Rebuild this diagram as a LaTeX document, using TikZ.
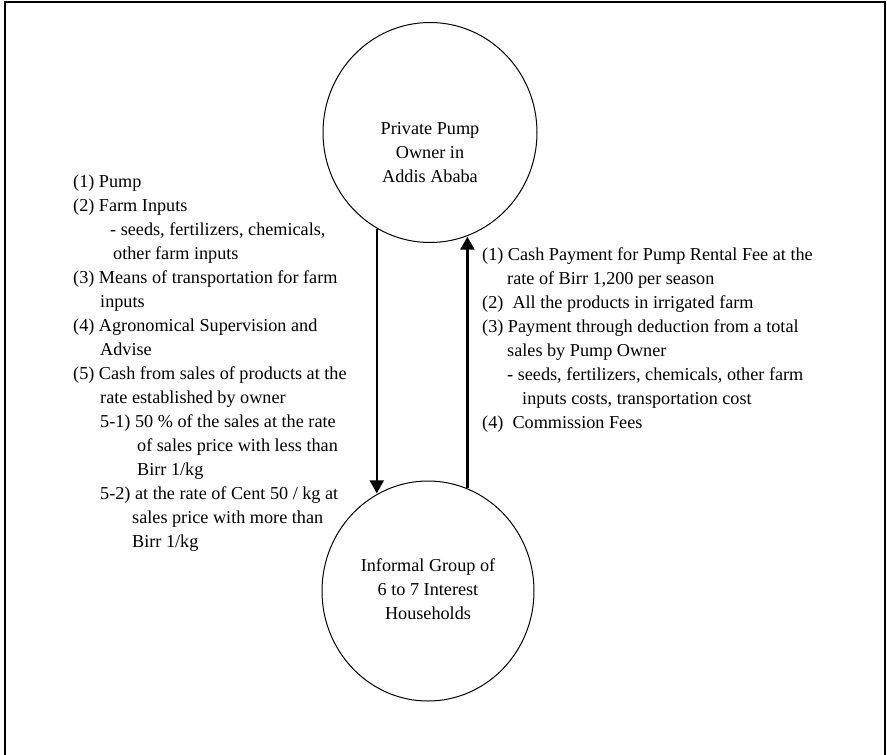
\documentclass[tikz,border=0pt]{standalone}
\usepackage{fontspec}
\setmainfont{Liberation Serif}
\usetikzlibrary{arrows.meta,shapes.geometric}
\newcommand{\bodyfont}{\fontsize{18.2}{24}\selectfont}
\begin{document}
\begin{tikzpicture}[x=1pt,y=-1pt,
  line/.style={anchor=base west, inner sep=0pt, font=\bodyfont},
  party/.style={draw, ellipse, line width=1pt, inner sep=0pt,
                minimum width=214pt, minimum height=220pt},
  title/.style={align=center, inner sep=0pt, font=\bodyfont},
  flow/.style={line width=2.4pt, -{Triangle[length=13pt,width=14pt]}}]
\useasboundingbox (0,0) rectangle (887,755);
\fill[white] (0,0) rectangle (887,755);
% outer frame (its lower edge runs past the page)
\begin{scope}
  \clip (0,0) rectangle (887,755);
  \draw[line width=2pt] (5,1.5) rectangle (885,775);
\end{scope}

% the two parties
\node[party] (owner) at (430,132.5) {};
\node[title] (ownertxt) at (430,153) {Private Pump\\Owner in\\Addis Ababa};
\node[party, minimum width=212pt] (group) at (428,591) {};
\node[title] (grouptxt) at (428,589) {Informal Group of\\6 to 7 Interest\\Households};

% flows between them
\draw[flow] (owner.241.3) -- (owner.241.3 |- group.117.6);
\draw[flow] (group.69.7) -- (group.69.7 |- owner.289.2);

% what the owner provides
\node[line] (l1)  at (73,187)  {(1) Pump};
\node[line] (l2)  at (73,211)  {(2) Farm Inputs};
\node[line] (l3)  at (110,235) {- seeds, fertilizers, chemicals,};
\node[line] (l4)  at (113,259) {other farm inputs};
\node[line] (l5)  at (73,283)  {(3) Means of transportation for farm};
\node[line] (l6)  at (100,307) {inputs};
\node[line] (l7)  at (73,331)  {(4) Agronomical Supervision and};
\node[line] (l8)  at (100,355) {Advise};
\node[line] (l9)  at (73,379)  {(5) Cash from sales of products at the};
\node[line] (l10) at (100,403) {rate established by owner};
\node[line] (l11) at (100,427) {5-1) 50 \% of the sales at the rate};
\node[line] (l12) at (137,451) {of sales price with less than};
\node[line] (l13) at (137,475) {Birr 1/kg};
\node[line] (l14) at (100,499) {5-2) at the rate of Cent 50 / kg at};
\node[line] (l15) at (132,523) {sales price with more than};
\node[line] (l16) at (132,547) {Birr 1/kg};

% what the group pays back
\node[line] (r1) at (482,260) {(1) Cash Payment for Pump Rental Fee at the};
\node[line] (r2) at (507,284) {rate of Birr 1,200 per season};
\node[line] (r3) at (482,308) {(2)\ \ All the products in irrigated farm};
\node[line] (r4) at (482,332) {(3) Payment through deduction from a total};
\node[line] (r5) at (507,356) {sales by Pump Owner};
\node[line] (r6) at (507,380) {- seeds, fertilizers, chemicals, other farm};
\node[line] (r7) at (522,404) {inputs costs, transportation cost};
\node[line] (r8) at (482,428) {(4)\ \ Commission Fees};
\end{tikzpicture}
\end{document}
